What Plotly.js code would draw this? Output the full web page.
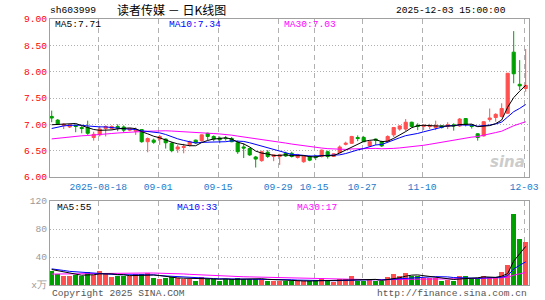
<!DOCTYPE html>
<html>
<head>
<meta charset="utf-8">
<script src="https://cdn.plot.ly/plotly-3.0.1.min.js"></script>
<style>html,body{margin:0;padding:0;background:#fff;}#chart{width:545px;height:300px;}</style>
</head>
<body>
<div id="chart"></div>
<script>
// ---- data ----
const dates = [
 "2025-08-06","2025-08-07","2025-08-08","2025-08-11","2025-08-12","2025-08-13","2025-08-14","2025-08-15",
 "2025-08-18","2025-08-19","2025-08-20","2025-08-21","2025-08-22","2025-08-25","2025-08-26","2025-08-27",
 "2025-08-28","2025-08-29","2025-09-01","2025-09-02","2025-09-03","2025-09-04","2025-09-05","2025-09-08",
 "2025-09-09","2025-09-10","2025-09-11","2025-09-12","2025-09-15","2025-09-16","2025-09-17","2025-09-18",
 "2025-09-19","2025-09-22","2025-09-23","2025-09-24","2025-09-25","2025-09-26","2025-09-29","2025-09-30",
 "2025-10-09","2025-10-10","2025-10-13","2025-10-14","2025-10-15","2025-10-16","2025-10-17","2025-10-20",
 "2025-10-21","2025-10-22","2025-10-23","2025-10-24","2025-10-27","2025-10-28","2025-10-29","2025-10-30",
 "2025-10-31","2025-11-03","2025-11-04","2025-11-05","2025-11-06","2025-11-07","2025-11-10","2025-11-11",
 "2025-11-12","2025-11-13","2025-11-14","2025-11-17","2025-11-18","2025-11-19","2025-11-20","2025-11-21",
 "2025-11-24","2025-11-25","2025-11-26","2025-11-27","2025-11-28","2025-12-01","2025-12-02","2025-12-03"];

const open = [7.15,7.08,6.98,6.95,6.98,6.94,6.94,6.75,6.80,6.92,6.92,6.96,6.95,6.89,6.87,6.90,
 6.67,6.70,6.72,6.72,6.64,6.53,6.56,6.61,6.70,6.69,6.83,6.77,6.74,6.74,6.73,6.65,
 6.57,6.54,6.38,6.31,6.47,6.39,6.39,6.45,6.45,6.37,6.29,6.39,6.39,6.39,6.48,6.39,
 6.46,6.62,6.64,6.75,6.75,6.59,6.72,6.67,6.68,6.80,6.91,6.91,7.04,6.98,6.96,6.96,
 6.94,6.97,6.96,6.99,6.97,7.11,6.98,6.82,6.78,7.09,7.13,7.15,7.21,8.37,7.76,7.68];
const high = [7.26,7.10,7.02,7.00,7.00,6.97,7.07,6.86,6.97,6.98,6.98,7.00,6.98,6.93,6.94,6.91,
 6.75,6.73,6.80,6.73,6.67,6.61,6.63,6.69,6.71,6.81,6.84,6.79,6.77,6.78,6.76,6.69,
 6.64,6.56,6.40,6.50,6.51,6.43,6.44,6.48,6.48,6.44,6.41,6.41,6.42,6.52,6.50,6.45,
 6.60,6.67,6.78,6.79,6.78,6.69,6.73,6.69,6.79,6.95,6.98,7.10,7.05,7.02,7.00,7.01,
 7.07,6.98,7.04,7.02,7.12,7.12,7.00,6.83,7.06,7.30,7.21,7.40,7.97,8.77,8.22,8.43];
const low = [7.04,6.99,6.91,6.93,6.85,6.83,6.80,6.69,6.77,6.77,6.90,6.87,6.85,6.87,6.80,6.65,
 6.47,6.63,6.61,6.54,6.47,6.46,6.45,6.58,6.63,6.67,6.70,6.68,6.64,6.69,6.66,6.44,
 6.36,6.40,6.18,6.29,6.36,6.30,6.23,6.38,6.37,6.35,6.27,6.30,6.32,6.37,6.35,6.38,
 6.45,6.60,6.63,6.68,6.66,6.58,6.61,6.57,6.66,6.76,6.88,6.87,6.94,6.89,6.89,6.91,
 6.89,6.92,6.91,6.88,6.95,6.96,6.92,6.69,6.77,7.05,7.05,7.13,7.20,7.78,7.65,7.62];
const close = [7.12,7.01,7.00,6.99,6.96,6.92,6.83,6.81,6.91,6.96,6.96,6.93,6.89,6.92,6.89,6.67,
 6.73,6.66,6.77,6.65,6.50,6.57,6.58,6.67,6.65,6.80,6.77,6.72,6.71,6.73,6.67,6.48,
 6.55,6.42,6.34,6.48,6.39,6.42,6.42,6.40,6.39,6.42,6.40,6.32,6.37,6.51,6.39,6.44,
 6.57,6.64,6.77,6.73,6.67,6.67,6.70,6.59,6.77,6.94,6.97,7.04,6.96,6.96,6.98,6.97,
 6.98,6.94,6.99,6.97,7.10,7.00,6.96,6.75,7.05,7.12,7.19,7.30,7.97,7.96,7.73,7.74];
const volume = [20.5,15.7,13.3,13.3,14.3,12.9,18.1,14.3,20,15.2,11.9,13.3,13.3,12.9,16.2,15.2,
 16.7,10.5,9,9.5,11,10.5,8.6,8.6,6.2,11.9,8.6,8.1,6.2,8.6,8.6,10.5,
 8.6,8.6,8.6,8.6,6.2,6.2,6.2,5.7,5.7,5.7,5.7,5.7,7,9.5,5.7,4.3,
 8.6,8.6,12.9,6.2,6.2,8.6,6.2,5.7,11.4,15.7,12.9,17.1,13.3,12.9,10.5,9.5,
 10.5,6.2,7.1,6.2,12.9,12.9,10,9.5,13,11,11,18.5,28,102,66,61];
// closes / volumes of the 29 sessions before the window (needed for the moving averages)
const priorClose = [6.60,6.62,6.61,6.63,6.65,6.64,6.62,6.60,6.63,6.66,6.64,6.62,6.60,6.61,6.63,
 6.62,6.60,6.61,6.63,6.66,6.72,6.80,6.88,6.92,6.93,6.98,6.95,6.94,6.97];
const priorVolume = [11,13,12,10,12,14,11,12,13,10,12,11,13,12,14,11,12,13,12,10,22,30,26,21,21,24,23,21,22];

const tickDates = ["2025-08-18","2025-09-01","2025-09-15","2025-09-29","2025-10-15","2025-10-27","2025-11-10","2025-12-03"];
const tickLabels = ["2025-08-18","09-01","09-15","09-29","10-15","10-27","11-10","12-03"];
const priceTicks = [6.0,6.5,7.0,7.5,8.0,8.5,9.0];
const volTicks = [0,40,80,120];
const volTickLabels = ["x万","40","80","120"];

// ---- helpers ----
function movingAvg(prior, vals, n){
  const all = prior.concat(vals), out = [];
  for(let i=0;i<vals.length;i++){
    const end = prior.length + i; let s = 0;
    for(let k=end-n+1;k<=end;k++) s += all[k];
    out.push(s/n);
  }
  return out;
}
const idx = dates.map((d,i)=>i);
const RED = '#ff5050', GREEN = '#00a000';
const MONO = 'Liberation Mono, DejaVu Sans Mono, monospace';

const traces = [
  {type:'candlestick', x:idx, open:open, high:high, low:low, close:close, xaxis:'x', yaxis:'y',
   increasing:{line:{color:RED,width:1}, fillcolor:RED},
   decreasing:{line:{color:GREEN,width:1}, fillcolor:GREEN}, showlegend:false, hoverinfo:'skip'},
  {type:'scatter', mode:'lines', x:idx, y:movingAvg(priorClose,close,30), line:{color:'#ff00ff',width:1}, xaxis:'x', yaxis:'y', showlegend:false},
  {type:'scatter', mode:'lines', x:idx, y:movingAvg(priorClose,close,10), line:{color:'#0000ff',width:1}, xaxis:'x', yaxis:'y', showlegend:false},
  {type:'scatter', mode:'lines', x:idx, y:movingAvg(priorClose,close,5), line:{color:'#000000',width:1}, xaxis:'x', yaxis:'y', showlegend:false},
  {type:'bar', x:idx, y:volume, width:0.82, xaxis:'x2', yaxis:'y2', showlegend:false,
   marker:{color:idx.map(i=> close[i] >= open[i] ? RED : GREEN), line:{width:0}}},
  {type:'scatter', mode:'lines', x:idx, y:movingAvg(priorVolume,volume,30), line:{color:'#ff00ff',width:1}, xaxis:'x2', yaxis:'y2', showlegend:false},
  {type:'scatter', mode:'lines', x:idx, y:movingAvg(priorVolume,volume,10), line:{color:'#0000ff',width:1}, xaxis:'x2', yaxis:'y2', showlegend:false},
  {type:'scatter', mode:'lines', x:idx, y:movingAvg(priorVolume,volume,5), line:{color:'#000000',width:1}, xaxis:'x2', yaxis:'y2', showlegend:false}
];

// pixel -> paper conversion for text placement
const L=50, R=529, T=19, B=285;
function ann(text, px, py, color, xanchor, size, family){
  return {text:text, xref:'paper', yref:'paper', x:(px-L)/(R-L), y:(B-py)/(B-T),
    xanchor:xanchor||'left', yanchor:'middle', showarrow:false,
    font:{family:family||MONO, size:size||9.6, color:color||'#000'}};
}
const tickPos = tickDates.map(d => dates.indexOf(d) - 0.25);

const gridX = {showgrid:true, gridcolor:'#b0b0b0', griddash:'5px,4px', gridwidth:1,
  showline:true, mirror:true, linecolor:'#a0a0a0', linewidth:1, zeroline:false, ticks:'',
  range:[-0.283,79.55], tickmode:'array', tickvals:tickPos, ticktext:tickLabels, fixedrange:true};

const layout = {
  width:545, height:300, margin:{l:L, r:545-R, t:T, b:300-B, pad:0},
  paper_bgcolor:'#fff', plot_bgcolor:'#fff', showlegend:false, boxgap:0.25, bargap:0,
  xaxis:Object.assign({}, gridX, {anchor:'y', domain:[0,1], rangeslider:{visible:false},
    tickfont:{family:MONO, size:9.6, color:'#1a7acb'}}),
  xaxis2:Object.assign({}, gridX, {anchor:'y2', domain:[0,1], showticklabels:false}),
  yaxis:{domain:[(B-177)/(B-T),1], range:[6,9], tickmode:'array', tickvals:priceTicks,
    ticktext:priceTicks.map(v=>v.toFixed(2)), tickfont:{family:MONO, size:9.6, color:'#ff0000'},
    showgrid:true, gridcolor:'#b0b0b0', griddash:'1px,2px', showline:true, mirror:true,
    linecolor:'#a0a0a0', zeroline:false, ticks:'', fixedrange:true},
  yaxis2:{domain:[0,(B-201)/(B-T)], range:[0,120], tickmode:'array', tickvals:volTicks,
    ticktext:volTickLabels, tickfont:{family:MONO, size:9.6, color:'#999999'},
    showgrid:true, gridcolor:'#b0b0b0', griddash:'1px,2px', showline:true, mirror:true,
    linecolor:'#a0a0a0', zeroline:false, ticks:'', fixedrange:true},
  annotations:[
    ann('sh603999', 48, 10, '#000'),
    ann('读者传媒 － 日K线图', 115, 9.5, '#000', 'left', 12, 'Noto Sans CJK SC'),
    ann('2025-12-03 15:00:00', 508, 10, '#000', 'right'),
    ann('MA5:7.71', 53, 24, '#000'),
    ann('MA10:7.34', 167, 24, '#0000ff'),
    ann('MA30:7.03', 282, 24, '#ff00ff'),
    ann('MA5:55', 55, 207, '#000'),
    ann('MA10:33', 175, 207, '#0000ff'),
    ann('MA30:17', 295, 207, '#ff00ff'),
    ann('Copyright 2025 SINA.COM', 50, 293, '#555'),
    ann('http://finance.sina.com.cn', 529, 293, '#555', 'right'),
    {text:'<b><i>sina</i></b>', xref:'paper', yref:'paper', x:(527-L)/(R-L), y:(B-162)/(B-T),
     xanchor:'right', yanchor:'middle', showarrow:false,
     font:{family:'DejaVu Sans', size:15, color:'rgba(190,190,190,0.8)'}}
  ]
};
Plotly.newPlot('chart', traces, layout, {staticPlot:true, displayModeBar:false});
</script>
</body>
</html>
